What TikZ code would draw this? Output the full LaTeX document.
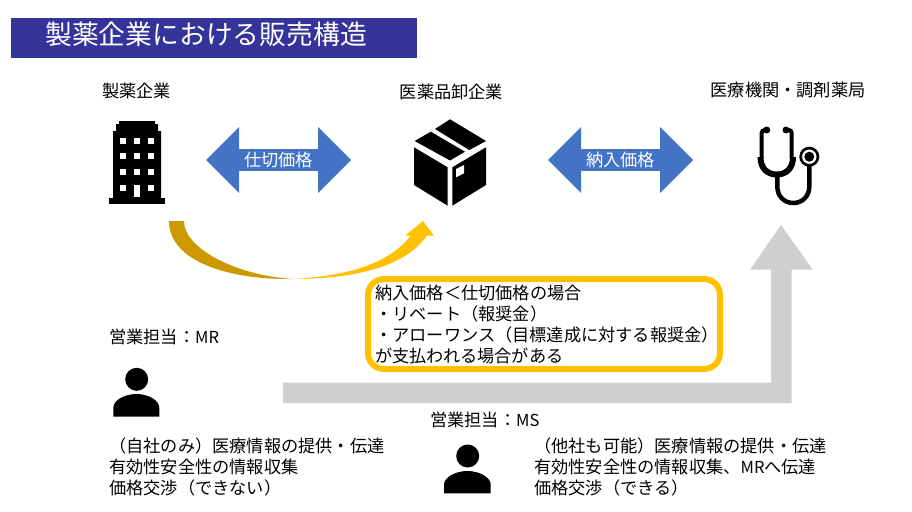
\documentclass[tikz,border=0pt]{standalone}
\usepackage{fontspec}
\setmainfont{Noto Sans CJK JP}
\usetikzlibrary{shapes.arrows}
\definecolor{titleblue}{HTML}{333399}
\definecolor{arrowblue}{HTML}{4472C4}
\definecolor{arrowgray}{HTML}{D0CECE}
\definecolor{boxyellow}{HTML}{FFC000}
\definecolor{darkgold}{HTML}{CC9900}
\newcommand{\latn}[1]{{\fontsize{16.5}{21}\selectfont #1}}
\tikzset{
    label17/.style={font=\fontsize{17.2}{21}\selectfont, inner sep=0pt},
    infotext/.style={label17, anchor=west, align=left},
    pricearrow/.style={double arrow, fill=arrowblue, text=white, label17,
        minimum height=145pt, minimum width=66pt, double arrow head extend=16.5pt},
}
\begin{document}
\begin{tikzpicture}[x=1pt, y=-1pt]
    \useasboundingbox (0, 0) rectangle (912, 511);

    \fill[titleblue] (11, 18) rectangle (417, 58);
    \node[anchor=west, text=white, inner sep=0pt, font=\fontsize{26.8}{30}\selectfont] (title) at (45, 34) {製薬企業における販売構造};

    \node[label17] (maker) at (136.5, 91) {製薬企業};
    \node[label17] (wholesaler) at (451.5, 92) {医薬品卸企業};
    \node[label17] (hospital) at (788, 90) {医療機関・調剤薬局};

    \node[pricearrow] (shikiri) at (278.5, 160) {仕切価格};
    \node[pricearrow] (nonyu) at (620.5, 160) {納入価格};

    % building
    \fill (109, 198) rectangle (165, 204);
    \fill (113, 131) -- (116, 131) -- (116, 124) -- (119, 124) -- (119, 121) -- (155, 121) -- (155, 124) -- (158, 124) -- (158, 131) -- (161, 131) -- (161, 198) -- (113, 198) -- cycle;
    \foreach \x in {120, 134, 148}
        \foreach \y in {138, 153, 169}
            \fill[white] (\x, \y) rectangle +(6, 6);
    \fill[white] (120, 185) rectangle +(6, 6);
    \fill[white] (148, 185) rectangle +(6, 6);
    \fill[white] (134, 185) rectangle (140, 197);

    % box
    \fill (414.7, 141) -- (430.7, 131.7) -- (465, 151.7) -- (450, 160.5) -- cycle;
    \fill (435, 129) -- (450, 119.3) -- (486, 141) -- (469.3, 150) -- cycle;
    \fill (414, 147.3) -- (447.7, 167.3) -- (447.7, 205.7) -- (414, 185) -- cycle;
    \fill (452.3, 167.3) -- (486, 147.3) -- (486, 185) -- (452.3, 205.7) -- cycle;
    \fill[white] (456, 169) -- (464, 165) -- (464, 173.3) -- (456, 177.3) -- cycle;

    % stethoscope
    \fill (766.7, 130) circle (3.5);
    \fill (786, 130) circle (3.5);
    \draw[line width=4pt, rounded corners=3pt] (766.7, 130) -- (761.7, 130) -- (761.7, 158);
    \draw[line width=4pt, rounded corners=3pt] (786, 130) -- (791.7, 130) -- (791.7, 158);
    \draw[line width=6pt] (760.5, 157) .. controls (760.5, 168) and (767, 174.5) .. (776.7, 174.5) .. controls (786.5, 174.5) and (793, 168) .. (793, 157);
    \draw[line width=4.5pt] (777.3, 174) -- (777.3, 186.5) .. controls (777.3, 196) and (784, 203) .. (793.3, 203) .. controls (802.5, 203) and (809.3, 196) .. (809.3, 186.5) -- (809.3, 165);
    \fill (809.3, 156.7) circle (10);
    \fill[white] (809.3, 156.7) circle (7.2);
    \fill (809.3, 156.7) circle (5);

    % curved arrow
    \fill[darkgold] (169, 221) -- (184, 221) .. controls (184, 250) and (240, 276) .. (293, 279) .. controls (230, 280) and (169, 262) .. cycle;
    \fill[boxyellow] (293, 279) .. controls (345, 276) and (388, 265) .. (410.7, 235.7) -- (405, 235.7) -- (423, 221) -- (434, 235.7) -- (426.7, 235.7) .. controls (405, 268) and (350, 279) .. cycle;

    % gray arrow
    \fill[arrowgray] (283, 382.7) -- (771, 382.7) -- (771, 269.7) -- (750, 269.7) -- (781, 225) -- (812.7, 269.7) -- (791.7, 269.7) -- (791.7, 403) -- (283, 403) -- cycle;

    \draw[boxyellow, line width=6pt, fill=white, rounded corners=16pt] (368, 279) rectangle (720, 369);
    \node[infotext] (condition) at (375, 324) {納入価格＜仕切価格の場合\\
        ・リベート（報奨金）\\
        ・アローワンス（目標達成に対する報奨金）\\
        が支払われる場合がある};

    % persons
    \fill (136.7, 379.3) circle (11.5);
    \fill (113.3, 416.7) -- (113.3, 408) .. controls (113.3, 400) and (125, 394) .. (136.3, 394) .. controls (148, 394) and (159.3, 400) .. (159.3, 408) -- (159.3, 416.7) -- cycle;
    \fill (467.7, 456) circle (11.5);
    \fill (444, 493.3) -- (444, 484.5) .. controls (444, 477) and (456, 471) .. (467.3, 471) .. controls (479, 471) and (490.7, 477) .. (490.7, 484.5) -- (490.7, 493.3) -- cycle;

    \node[infotext] (mr) at (109, 337) {営業担当：\latn{MR}};
    \node[infotext] (ms) at (430, 420) {営業担当：\latn{MS}};
    \node[infotext] (mrinfo) at (109, 467) {（自社のみ）医療情報の提供・伝達\\
        有効性安全性の情報収集\\
        価格交渉（できない）};
    \node[infotext] (msinfo) at (534, 466.5) {（他社も可能）医療情報の提供・伝達\\
        有効性安全性の情報収集、\latn{MR}へ伝達\\
        価格交渉（できる）};
\end{tikzpicture}
\end{document}
